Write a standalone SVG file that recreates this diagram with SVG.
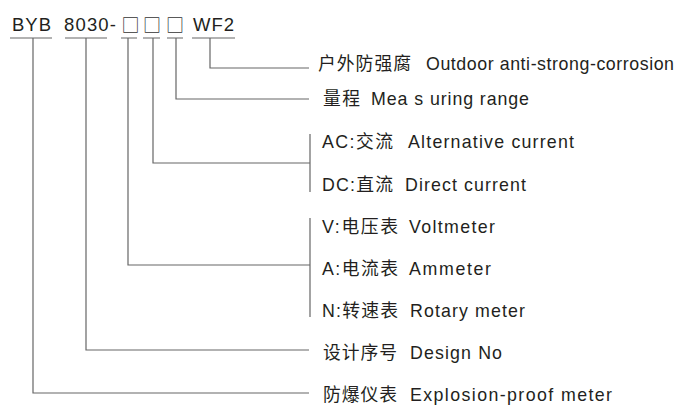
<svg xmlns="http://www.w3.org/2000/svg" width="677" height="406" viewBox="0 0 677 406">
<style>
.t{font-family:"Liberation Sans","Noto Sans CJK SC",sans-serif;font-size:17.8px;fill:#231f20}
.h{font-size:18.5px}
.bx{font-family:"Noto Sans CJK SC",sans-serif;font-size:18px;fill:#333;text-anchor:middle}
.ln{stroke:#666;stroke-width:1.2;fill:none}
</style>
<rect width="677" height="406" fill="#fff"/>
<g id="connectors">
<path class="ln" d="M10 38H52M65 38H107M121 38H137M143 38H160M167 38H183M192 38H235"/>
<path class="ln" d="M210 38V68H309"/>
<path class="ln" d="M176 38V99H309"/>
<path class="ln" d="M153 38V163H310M310 134V192"/>
<path class="ln" d="M128 38V265H310M310 218V317"/>
<path class="ln" d="M86 38V350H309"/>
<path class="ln" d="M33 38V393H309"/>
</g>
<g id="code-BYB"><text class="t h" x="12" y="31" textLength="39" lengthAdjust="spacing">BYB</text></g>
<g id="code-8030"><text class="t h" x="64" y="31" textLength="52" lengthAdjust="spacing">8030-</text></g>
<g id="box-1"><text class="bx" x="130.5" y="32">□</text></g>
<g id="box-2"><text class="bx" x="152" y="32">□</text></g>
<g id="box-3"><text class="bx" x="175" y="32">□</text></g>
<g id="code-WF2"><text class="t h" x="193" y="31" textLength="41" lengthAdjust="spacing">WF2</text></g>
<g id="label-outdoor"><text class="t" x="318" y="69.5" textLength="93" lengthAdjust="spacing">户外防强腐</text><text class="t" x="426" y="69.5" textLength="248" lengthAdjust="spacing">Outdoor anti-strong-corrosion</text></g>
<g id="label-range"><text class="t" x="323" y="105" textLength="37" lengthAdjust="spacing">量程</text><text class="t" x="371" y="105" textLength="158" lengthAdjust="spacing">Mea s uring range</text></g>
<g id="label-ac"><text class="t" x="322" y="147.5" textLength="71" lengthAdjust="spacing">AC:交流</text><text class="t" x="408" y="147.5" textLength="166" lengthAdjust="spacing">Alternative current</text></g>
<g id="label-dc"><text class="t" x="322" y="191" textLength="71" lengthAdjust="spacing">DC:直流</text><text class="t" x="405" y="191" textLength="121" lengthAdjust="spacing">Direct current</text></g>
<g id="label-v"><text class="t" x="322" y="233" textLength="76" lengthAdjust="spacing">V:电压表</text><text class="t" x="409" y="233" textLength="86" lengthAdjust="spacing">Voltmeter</text></g>
<g id="label-a"><text class="t" x="322" y="275" textLength="76" lengthAdjust="spacing">A:电流表</text><text class="t" x="409" y="275" textLength="82" lengthAdjust="spacing">Ammeter</text></g>
<g id="label-n"><text class="t" x="322" y="317" textLength="76" lengthAdjust="spacing">N:转速表</text><text class="t" x="410" y="317" textLength="115" lengthAdjust="spacing">Rotary meter</text></g>
<g id="label-design"><text class="t" x="323" y="359" textLength="74" lengthAdjust="spacing">设计序号</text><text class="t" x="410" y="359" textLength="92" lengthAdjust="spacing">Design No</text></g>
<g id="label-explosion"><text class="t" x="323" y="401" textLength="74" lengthAdjust="spacing">防爆仪表</text><text class="t" x="410" y="401" textLength="202" lengthAdjust="spacing">Explosion-proof meter</text></g>
</svg>
